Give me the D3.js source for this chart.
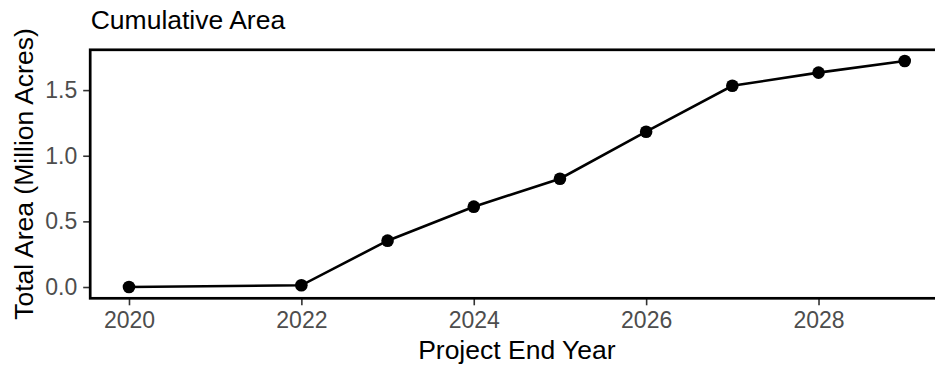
<!DOCTYPE html>
<html>
<head>
<meta charset="utf-8">
<script src="https://cdn.jsdelivr.net/npm/d3@7"></script>
<style>
    body { margin: 0; background: #fff; }
    svg { display: block; }
    text { font-family: "Liberation Sans", Arial, sans-serif; }
</style>
</head>
<body>
<div id="chart"></div>
<script>
var years = [2020, 2022, 2023, 2024, 2025, 2026, 2027, 2028, 2029];
var totals = [0, 0.013, 0.353, 0.612, 0.825, 1.183, 1.533, 1.633, 1.722];
var xTicks = [2020, 2022, 2024, 2026, 2028];
var yTicks = [0, 0.5, 1.0, 1.5];

var ctx = {
    w: 935,
    h: 367
};

var svg = d3.select("#chart").append("svg")
    .attr("width", ctx.w)
    .attr("height", ctx.h);

// panel runs a bit past the right edge, like the original export
var x = d3.scaleLinear()
    .domain([2019.55, 2029.45])
    .range([90.2, 943.5]);

var y = d3.scaleLinear()
    .domain([-0.086, 1.807])
    .range([298.3, 49.8]);

var data = years.map(function (d, i) {
    return { year: d, value: totals[i] };
});

// axes
var xAxis = svg.append("g")
    .attr("transform", "translate(0," + y.range()[0] + ")")
    .call(d3.axisBottom(x).tickValues(xTicks).tickFormat(d3.format("d")).tickSize(7).tickPadding(6));

var yAxis = svg.append("g")
    .attr("transform", "translate(" + x.range()[0] + ",0)")
    .call(d3.axisLeft(y).tickValues(yTicks).tickFormat(d3.format(".1f")).tickSize(7).tickPadding(6));

[xAxis, yAxis].forEach(function (g) {
    g.select(".domain").remove();
    g.selectAll(".tick line").attr("stroke", "#333").attr("stroke-width", 1.6);
    g.selectAll(".tick text")
        .attr("fill", "#4d4d4d")
        .style("font-size", "23px")
        .style("font-family", "'Liberation Sans', Arial, sans-serif");
});

// panel border
svg.append("rect")
    .attr("x", x.range()[0])
    .attr("y", y.range()[1])
    .attr("width", x.range()[1] - x.range()[0])
    .attr("height", y.range()[0] - y.range()[1])
    .attr("fill", "none")
    .attr("stroke", "#000")
    .attr("stroke-width", 2.7);

// line + points
var line = d3.line()
    .x(function (d) { return x(d.year); })
    .y(function (d) { return y(d.value); });

svg.append("path")
    .datum(data)
    .attr("d", line)
    .attr("fill", "none")
    .attr("stroke", "#000")
    .attr("stroke-width", 2.6);

svg.selectAll("circle")
    .data(data)
    .enter()
    .append("circle")
    .attr("cx", function (d) { return x(d.year); })
    .attr("cy", function (d) { return y(d.value); })
    .attr("r", 6.3)
    .attr("fill", "#000");

// titles
svg.append("text")
    .attr("x", 90.7)
    .attr("y", 29)
    .style("font-size", "26.5px")
    .attr("fill", "#000")
    .text("Cumulative Area");

svg.append("text")
    .attr("x", (x.range()[0] + x.range()[1]) / 2)
    .attr("y", 359)
    .attr("text-anchor", "middle")
    .style("font-size", "26.5px")
    .attr("fill", "#000")
    .text("Project End Year");

svg.append("text")
    .attr("transform", "translate(33," + (y.range()[0] + y.range()[1]) / 2 + ") rotate(-90)")
    .attr("text-anchor", "middle")
    .style("font-size", "26.5px")
    .attr("fill", "#000")
    .text("Total Area (Million Acres)");
</script>
</body>
</html>
